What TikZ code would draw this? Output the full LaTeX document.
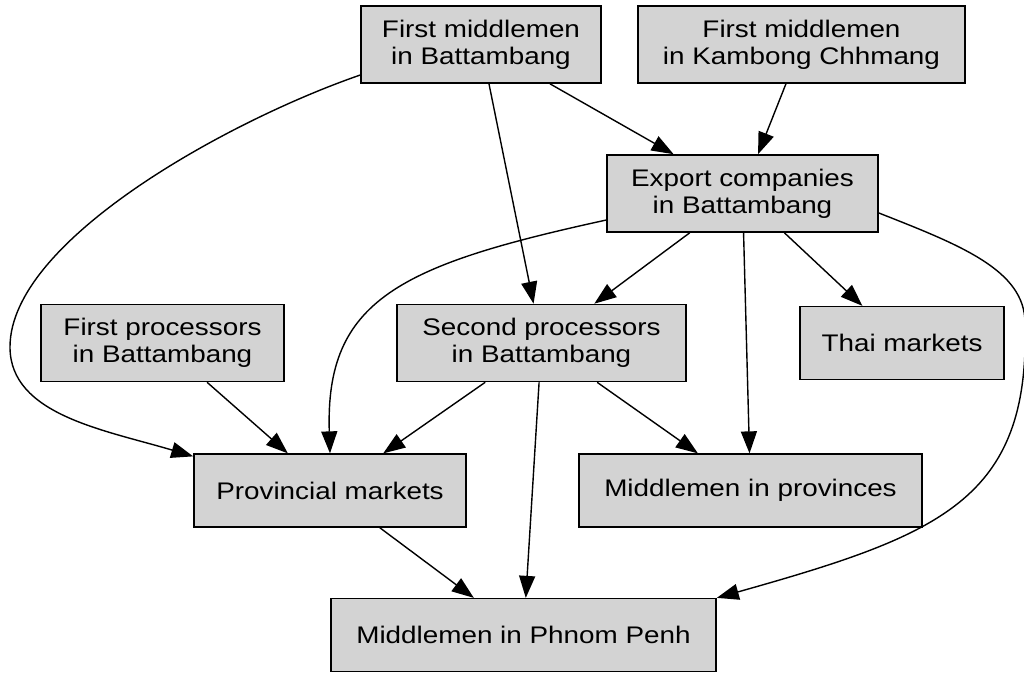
\documentclass[tikz,border=0pt]{standalone}
\usepackage{fontspec}
\setmainfont{Liberation Sans}[FakeStretch=1.16]
\usetikzlibrary{arrows.meta}
\definecolor{boxgray}{HTML}{D3D3D3}
\begin{document}
\begin{tikzpicture}[x=0.75pt,y=-0.75pt,
  box/.style={draw=black, fill=boxgray, line width=1.2pt, inner sep=0pt, align=center,
    font=\fontsize{18pt}{20.5pt}\selectfont},
  two/.style={minimum height=57.75pt},
  one/.style={minimum height=54.5pt},
  edge/.style={draw=black, line width=1.05pt, -{Triangle[length=16.5pt,width=12pt]}}]
\useasboundingbox (0,0) rectangle (1024,672);
\node[box,two,minimum width=180pt] (fmb) at (481,44.5) {First middlemen\\in Battambang};
\node[box,two,minimum width=245.25pt] (fmk) at (801.5,44.5) {First middlemen\\in Kambong Chhmang};
\node[box,two,minimum width=203.25pt] (exp) at (742.5,193.5) {Export companies\\in Battambang};
\node[box,two,minimum width=182.25pt] (fpb) at (162.5,343) {First processors\\in Battambang};
\node[box,two,minimum width=216.75pt] (spb) at (541.5,343) {Second processors\\in Battambang};
\node[box,one,minimum width=153pt] (thai) at (902,343) {Thai markets};
\node[box,one,minimum width=204pt] (prov) at (330,490.5) {Provincial markets};
\node[box,one,minimum width=257.25pt] (midp) at (750.5,490.5) {Middlemen in provinces};
\node[box,one,minimum width=288.75pt] (pp) at (523.5,635) {Middlemen in Phnom Penh};

\draw[edge] (fmb) -- (exp);
\draw[edge] (fmk) -- (exp);
\draw[edge] (fmb) -- (spb);
\draw[edge] (exp) -- (spb);
\draw[edge] (exp) -- (midp);
\draw[edge] (exp) -- (thai);
\draw[edge] (fpb) -- (prov);
\draw[edge] (spb) -- (prov);
\draw[edge] (spb) -- (pp);
\draw[edge] (spb) -- (midp);
\draw[edge] (prov) -- (pp);

\draw[edge] ([yshift=-22.9pt]fmb.west) .. controls (230,120) and (10,240) .. (10,347)
  .. controls (10,415) and (105,430) .. ([yshift=-2.25pt]prov.north west);
\draw[edge] ([yshift=-19.9pt]exp.west) .. controls (400,265) and (325,300) .. (prov.north);
\draw[edge] ([yshift=-14.6pt]exp.east) .. controls (960,245) and (1025,270) .. (1025,323)
  .. controls (1030,500) and (940,535) .. (pp.north east);
\end{tikzpicture}
\end{document}
